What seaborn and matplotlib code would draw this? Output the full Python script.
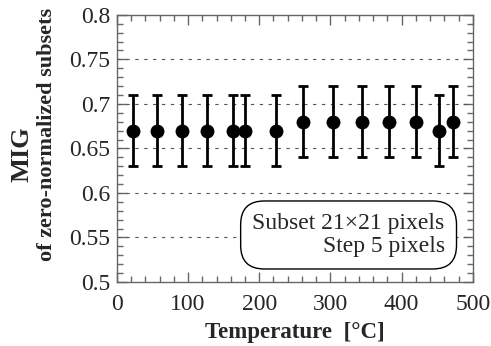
import numpy as np
import pandas as pd
import seaborn as sns
import matplotlib.pyplot as plt
from matplotlib.ticker import MultipleLocator

# data
temperature = [22, 56, 91, 126, 163, 180, 223, 261, 303, 345, 382, 420, 452, 472]
mig = [0.67, 0.67, 0.67, 0.67, 0.67, 0.67, 0.67, 0.68, 0.68, 0.68, 0.68, 0.68, 0.67, 0.68]
mig_err = [0.04] * 14
ytick_labels = ['0.5', '0.55', '0.6', '0.65', '0.7', '0.75', '0.8']

df = pd.DataFrame({'Temperature': temperature, 'MIG': mig, 'err': mig_err})

sns.set_style('ticks')
plt.rcParams['font.family'] = ['Liberation Serif', 'DejaVu Serif']

fig = plt.figure(figsize=(4.91, 3.46), dpi=100)
ax = fig.add_axes([0.238, 0.185, 0.725, 0.772])

# error bars first, then the dots on top
ax.errorbar(df['Temperature'], df['MIG'], yerr=df['err'], fmt='none',
            ecolor='black', elinewidth=2.0, capsize=3.6, capthick=2.0, zorder=3)
sns.scatterplot(data=df, x='Temperature', y='MIG', ax=ax, color='black',
                s=100, edgecolor='black', linewidth=0, zorder=4, legend=False)

ax.set_xlim(0, 500)
ax.set_ylim(0.5, 0.8)
ax.xaxis.set_major_locator(MultipleLocator(100))
ax.xaxis.set_minor_locator(MultipleLocator(20))
ax.yaxis.set_minor_locator(MultipleLocator(0.01))
ax.set_yticks([float(t) for t in ytick_labels])
ax.set_yticklabels(ytick_labels)

ax.tick_params(which='both', direction='in', top=True, right=True,
               labelsize=17, color='#666666')
ax.tick_params(axis='y', pad=5)
ax.tick_params(axis='x', pad=9)
ax.tick_params(which='major', length=7, width=1)
ax.tick_params(which='minor', length=4, width=1)
for sp in ax.spines.values():
    sp.set_color('#666666')
    sp.set_linewidth(1)

# dashed horizontal grid at the majors
for yv in [0.55, 0.6, 0.65, 0.7, 0.75]:
    ax.axhline(yv, color='#555555', lw=0.8, ls=(0, (3, 5)), zorder=1)

ax.set_xlabel('Temperature  [°C]', fontsize=16.5, fontweight='bold', labelpad=5)
# two-line y label: "MIG" is set bigger than the second line
ax.set_ylabel('of zero-normalized subsets', fontsize=16, fontweight='bold')
ax.yaxis.set_label_coords(-0.168, 0.553)
ax.text(-0.267, 0.479, 'MIG', transform=ax.transAxes, rotation=90,
        ha='center', va='center', fontsize=19, fontweight='bold')

ax.text(0.921, 0.176, 'Subset 21×21 pixels\nStep 5 pixels', transform=ax.transAxes,
        ha='right', va='center', multialignment='right', fontsize=17, linespacing=1.15,
        bbox=dict(boxstyle='round,pad=0.5,rounding_size=1.0', fc='white', ec='black', lw=1),
        zorder=5)

fig.savefig('out.png', dpi=100)
